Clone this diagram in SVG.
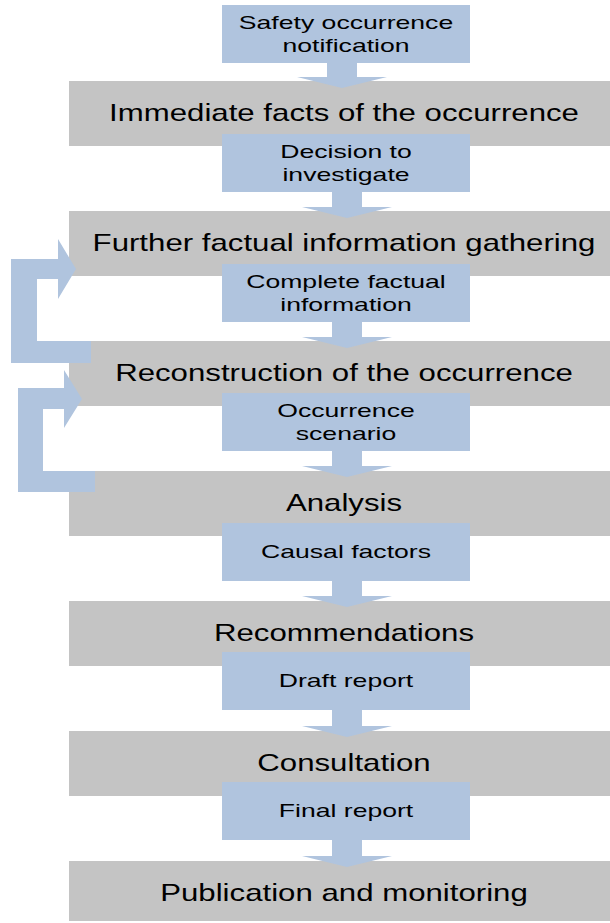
<svg xmlns="http://www.w3.org/2000/svg" width="610" height="923" viewBox="0 0 610 923">
<style>
.g{fill:#C4C4C4}
.b{fill:#B0C4DE}
.c{fill:#B0C4DE}
.tg{font-family:"Liberation Sans",Arial,sans-serif;font-size:24px;fill:#000;text-anchor:middle}
.tb{font-family:"Liberation Sans",Arial,sans-serif;font-size:19px;fill:#000;text-anchor:middle}
</style>
<rect width="610" height="923" fill="#fff"/>
<g id="stages">
<g id="s1"><rect class="g" x="69" y="81" width="541" height="65"/><text class="tg" transform="translate(344,121) scale(1.3,1)">Immediate facts of the occurrence</text></g>
<g id="s2"><rect class="g" x="69" y="211" width="541" height="65"/><text class="tg" transform="translate(344,251) scale(1.3,1)">Further factual information gathering</text></g>
<g id="s3"><rect class="g" x="69" y="341" width="541" height="65"/><text class="tg" transform="translate(344,381) scale(1.3,1)">Reconstruction of the occurrence</text></g>
<g id="s4"><rect class="g" x="69" y="471" width="541" height="65"/><text class="tg" transform="translate(344,511) scale(1.3,1)">Analysis</text></g>
<g id="s5"><rect class="g" x="69" y="601" width="541" height="65"/><text class="tg" transform="translate(344,641) scale(1.3,1)">Recommendations</text></g>
<g id="s6"><rect class="g" x="69" y="731" width="541" height="65"/><text class="tg" transform="translate(344,771) scale(1.3,1)">Consultation</text></g>
<g id="s7"><rect class="g" x="69" y="861" width="541" height="60"/><text class="tg" transform="translate(344,901) scale(1.3,1)">Publication and monitoring</text></g>
</g>
<g id="outputs">
<g id="o1"><rect class="b" x="222" y="5" width="248" height="58"/><text class="tb" transform="translate(346,29) scale(1.4,1)">Safety occurrence</text><text class="tb" transform="translate(346,52) scale(1.4,1)">notification</text></g>
<g id="o2"><rect class="b" x="222" y="134" width="248" height="58"/><text class="tb" transform="translate(346,158) scale(1.4,1)">Decision to</text><text class="tb" transform="translate(346,181) scale(1.4,1)">investigate</text></g>
<g id="o3"><rect class="b" x="222" y="264" width="248" height="58"/><text class="tb" transform="translate(346,288) scale(1.4,1)">Complete factual</text><text class="tb" transform="translate(346,311) scale(1.4,1)">information</text></g>
<g id="o4"><rect class="b" x="222" y="393" width="248" height="58"/><text class="tb" transform="translate(346,417) scale(1.4,1)">Occurrence</text><text class="tb" transform="translate(346,440) scale(1.4,1)">scenario</text></g>
<g id="o5"><rect class="b" x="222" y="523" width="248" height="58"/><text class="tb" transform="translate(346,558) scale(1.4,1)">Causal factors</text></g>
<g id="o6"><rect class="b" x="222" y="652" width="248" height="58"/><text class="tb" transform="translate(346,687) scale(1.4,1)">Draft report</text></g>
<g id="o7"><rect class="b" x="222" y="782" width="248" height="58"/><text class="tb" transform="translate(346,817) scale(1.4,1)">Final report</text></g>
</g>
<g id="connectors">
<polygon class="c" points="327,63 357,63 357,77 387,77 342,88 297,77 327,77"/>
<polygon class="c" points="332,192 362,192 362,207 392,207 347,218 302,207 332,207"/>
<polygon class="c" points="332,322 362,322 362,337 392,337 347,348 302,337 332,337"/>
<polygon class="c" points="332,451 362,451 362,466 392,466 347,477 302,466 332,466"/>
<polygon class="c" points="332,581 362,581 362,596 392,596 347,607 302,596 332,596"/>
<polygon class="c" points="332,710 362,710 362,726 392,726 347,737 302,726 332,726"/>
<polygon class="c" points="332,840 362,840 362,856 392,856 347,867 302,856 332,856"/>
<polygon class="c" points="91,341 91,363 11,363 11,259 58,259 58,239 76,269 58,299 58,279 37,279 37,341"/>
<polygon class="c" points="95,471 95,492 18,492 18,388 64,388 64,370 82,399 64,428 64,409 43,409 43,471"/>
</g>
</svg>
